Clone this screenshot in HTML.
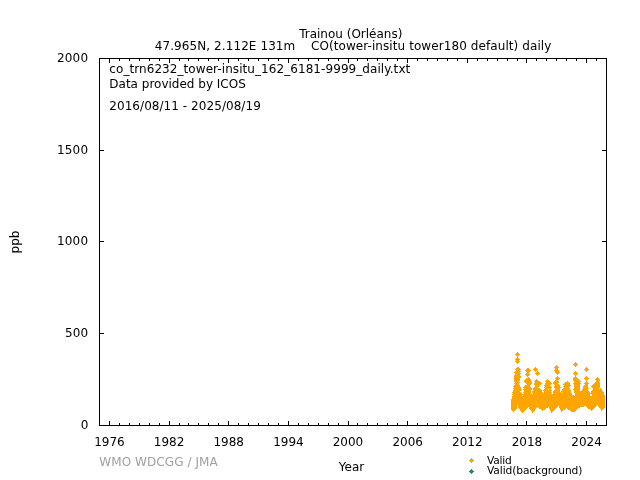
<!DOCTYPE html>
<html><head><meta charset="utf-8"><title>Trainou CO daily</title>
<style>
html,body{margin:0;padding:0;background:#fff;}
body{width:640px;height:480px;overflow:hidden;position:relative;}
svg{position:absolute;left:0;top:0;}
text{font-family:"DejaVu Sans","Liberation Sans",sans-serif;font-size:12px;fill:#000;}
.g{fill:#a0a0a0;}
.k{font-size:10.67px;}
</style></head><body>
<svg width="640" height="480" viewBox="0 0 640 480">
<g id="frame" stroke="#000" stroke-width="1" fill="none" shape-rendering="crispEdges">
<rect x="99.5" y="58.5" width="507" height="367"/>
</g>
<g id="ticks" stroke="#000" stroke-width="1" fill="none" shape-rendering="crispEdges"><path d="M109.5,425v-4M109.5,59v4M119.5,425v-2M119.5,59v2M129.5,425v-2M129.5,59v2M139.5,425v-2M139.5,59v2M149.5,425v-2M149.5,59v2M159.5,425v-2M159.5,59v2M169.5,425v-4M169.5,59v4M179.5,425v-2M179.5,59v2M188.5,425v-2M188.5,59v2M198.5,425v-2M198.5,59v2M208.5,425v-2M208.5,59v2M218.5,425v-2M218.5,59v2M228.5,425v-4M228.5,59v4M238.5,425v-2M238.5,59v2M248.5,425v-2M248.5,59v2M258.5,425v-2M258.5,59v2M268.5,425v-2M268.5,59v2M278.5,425v-2M278.5,59v2M288.5,425v-4M288.5,59v4M298.5,425v-2M298.5,59v2M308.5,425v-2M308.5,59v2M318.5,425v-2M318.5,59v2M328.5,425v-2M328.5,59v2M338.5,425v-2M338.5,59v2M348.5,425v-4M348.5,59v4M357.5,425v-2M357.5,59v2M367.5,425v-2M367.5,59v2M377.5,425v-2M377.5,59v2M387.5,425v-2M387.5,59v2M397.5,425v-2M397.5,59v2M407.5,425v-4M407.5,59v4M417.5,425v-2M417.5,59v2M427.5,425v-2M427.5,59v2M437.5,425v-2M437.5,59v2M447.5,425v-2M447.5,59v2M457.5,425v-2M457.5,59v2M467.5,425v-4M467.5,59v4M477.5,425v-2M477.5,59v2M487.5,425v-2M487.5,59v2M497.5,425v-2M497.5,59v2M507.5,425v-2M507.5,59v2M517.5,425v-2M517.5,59v2M526.5,425v-4M526.5,59v4M536.5,425v-2M536.5,59v2M546.5,425v-2M546.5,59v2M556.5,425v-2M556.5,59v2M566.5,425v-2M566.5,59v2M576.5,425v-2M576.5,59v2M586.5,425v-4M586.5,59v4M596.5,425v-2M596.5,59v2M100,333.5h4M606,333.5h-4M100,241.5h4M606,241.5h-4M100,150.5h4M606,150.5h-4"/></g>
<g id="pts" fill="#ffa500" shape-rendering="crispEdges"><path d="M517,352h1v1h-1zM516,353h3v1h-3zM515,354h5v1h-5zM516,355h3v1h-3zM517,356h1v2h-1zM516,358h3v1h-3zM515,359h5v1h-5zM516,360h3v1h-3zM515,361h5v1h-5zM575,362h1v1h-1zM516,362h3v1h-3zM517,363h1v1h-1zM574,363h3v1h-3zM573,364h5v1h-5zM556,365h1v1h-1zM574,365h3v1h-3zM555,366h3v1h-3zM575,366h1v1h-1zM535,367h1v1h-1zM554,367h5v1h-5zM517,367h2v1h-2zM586,367h1v1h-1zM527,368h2v1h-2zM585,368h3v1h-3zM534,368h3v1h-3zM516,368h4v1h-4zM555,368h3v2h-3zM584,369h5v1h-5zM533,369h5v1h-5zM526,369h4v1h-4zM515,369h6v1h-6zM525,370h6v1h-6zM585,370h3v1h-3zM534,370h3v1h-3zM554,370h5v1h-5zM516,370h4v1h-4zM586,371h1v1h-1zM575,371h1v1h-1zM537,371h1v1h-1zM526,371h4v1h-4zM535,371h1v1h-1zM555,371h4v1h-4zM515,371h6v1h-6zM536,372h3v1h-3zM574,372h3v1h-3zM555,372h5v1h-5zM527,372h2v1h-2zM514,372h6v1h-6zM535,373h5v1h-5zM556,373h3v1h-3zM573,373h5v1h-5zM526,373h3v1h-3zM515,373h6v1h-6zM515,374h5v1h-5zM536,374h3v1h-3zM557,374h1v1h-1zM574,374h3v1h-3zM525,374h5v1h-5zM537,375h1v1h-1zM526,375h3v1h-3zM514,375h6v1h-6zM575,375h1v2h-1zM586,376h1v1h-1zM557,376h1v1h-1zM527,376h1v1h-1zM514,376h7v2h-7zM528,377h1v1h-1zM574,377h3v1h-3zM585,377h3v1h-3zM556,377h3v1h-3zM597,377h1v1h-1zM584,378h5v1h-5zM596,378h3v1h-3zM555,378h5v1h-5zM526,378h4v1h-4zM573,378h5v1h-5zM595,379h5v1h-5zM525,379h6v1h-6zM585,379h3v1h-3zM556,379h3v1h-3zM573,379h6v1h-6zM536,379h1v1h-1zM547,379h1v1h-1zM514,378h6v3h-6zM546,380h3v1h-3zM535,380h3v1h-3zM555,380h3v1h-3zM573,380h7v1h-7zM596,380h4v1h-4zM586,380h1v2h-1zM524,380h7v2h-7zM514,381h5v1h-5zM567,381h1v1h-1zM574,381h7v1h-7zM596,381h3v1h-3zM545,381h5v1h-5zM554,381h5v1h-5zM534,381h6v1h-6zM535,382h6v1h-6zM595,382h5v1h-5zM515,382h5v1h-5zM546,382h5v1h-5zM585,382h3v1h-3zM565,382h4v1h-4zM574,382h6v1h-6zM525,382h7v1h-7zM553,382h6v1h-6zM526,383h6v1h-6zM594,383h6v1h-6zM514,383h5v1h-5zM545,383h7v1h-7zM584,383h5v1h-5zM534,383h8v1h-8zM564,383h6v1h-6zM553,383h5v1h-5zM573,383h8v1h-8zM563,384h7v1h-7zM545,384h6v1h-6zM515,384h4v1h-4zM534,384h7v1h-7zM585,384h3v1h-3zM554,384h5v1h-5zM527,384h4v1h-4zM593,384h7v1h-7zM584,385h4v1h-4zM555,385h5v1h-5zM544,385h6v1h-6zM535,385h5v1h-5zM525,385h5v1h-5zM514,385h6v1h-6zM592,385h8v1h-8zM564,385h7v1h-7zM563,386h7v1h-7zM591,386h9v1h-9zM554,386h6v1h-6zM545,386h6v1h-6zM513,386h7v1h-7zM535,386h4v1h-4zM524,386h6v1h-6zM583,386h5v2h-5zM544,387h8v1h-8zM554,387h7v1h-7zM534,387h4v1h-4zM514,387h7v1h-7zM523,387h8v1h-8zM564,387h5v1h-5zM592,387h8v1h-8zM574,384h6v5h-6zM563,388h7v1h-7zM524,388h8v1h-8zM513,388h8v1h-8zM545,388h6v1h-6zM593,388h6v1h-6zM583,388h6v1h-6zM533,388h7v1h-7zM600,388h1v1h-1zM555,388h5v2h-5zM544,389h4v1h-4zM549,389h2v1h-2zM523,389h9v1h-9zM533,389h8v1h-8zM593,389h9v1h-9zM573,389h7v1h-7zM562,389h8v1h-8zM514,389h8v1h-8zM582,389h6v2h-6zM562,390h9v1h-9zM533,390h9v1h-9zM592,390h10v1h-10zM513,390h8v1h-8zM554,390h6v1h-6zM574,390h6v1h-6zM543,390h9v1h-9zM524,390h7v2h-7zM544,391h7v1h-7zM591,391h12v1h-12zM513,391h7v1h-7zM574,391h15v1h-15zM553,391h7v1h-7zM561,391h10v1h-10zM532,391h10v1h-10zM544,392h8v1h-8zM562,392h9v1h-9zM574,392h16v1h-16zM523,392h8v1h-8zM553,392h8v1h-8zM532,392h11v1h-11zM512,392h9v1h-9zM591,392h13v1h-13zM533,393h18v1h-18zM524,393h7v1h-7zM575,393h29v1h-29zM513,393h9v1h-9zM553,393h19v1h-19zM592,394h12v1h-12zM512,394h60v1h-60zM575,394h15v2h-15zM523,395h51v1h-51zM513,395h9v1h-9zM592,395h13v1h-13zM512,396h93v3h-93zM511,399h94v6h-94zM518,405h79v1h-79zM598,405h7v2h-7zM586,406h10v1h-10zM518,406h40v1h-40zM559,406h25v1h-25zM538,407h10v1h-10zM518,407h10v1h-10zM559,407h21v1h-21zM549,407h8v1h-8zM587,407h8v1h-8zM599,407h6v1h-6zM529,407h8v1h-8zM511,405h6v4h-6zM539,408h7v1h-7zM588,408h6v1h-6zM560,408h6v1h-6zM549,408h7v1h-7zM600,408h4v1h-4zM567,408h11v1h-11zM519,408h8v1h-8zM529,408h7v1h-7zM530,409h5v1h-5zM511,409h5v1h-5zM541,409h4v1h-4zM590,409h3v1h-3zM601,409h2v1h-2zM560,409h5v1h-5zM568,409h9v1h-9zM520,409h6v1h-6zM550,409h5v1h-5zM601,410h1v1h-1zM531,410h4v1h-4zM520,410h5v1h-5zM570,410h6v1h-6zM550,410h4v1h-4zM512,410h3v1h-3zM542,410h1v1h-1zM561,410h2v1h-2zM591,410h1v1h-1zM571,411h4v1h-4zM551,411h2v1h-2zM532,411h2v1h-2zM513,411h1v1h-1zM521,411h3v1h-3zM561,411h1v1h-1zM532,412h1v1h-1zM551,412h1v1h-1zM522,412h1v1h-1z"/><path d="M469,460h5v1h-5zM470,459h3v3h-3zM471,458h1v5h-1z"/><path fill="#2e8b57" d="M469,471h5v1h-5zM470,470h3v3h-3zM471,469h1v5h-1z"/></g>
<text x="350.8" y="37.8" text-anchor="middle">Trainou (Orléans)</text>
<text x="353.1" y="50" text-anchor="middle" xml:space="preserve" style="letter-spacing:0.083px">47.965N, 2.112E 131m    CO(tower-insitu tower180 default) daily</text>
<text x="109.3" y="72.6" style="letter-spacing:0.07px">co_trn6232_tower-insitu_162_6181-9999_daily.txt</text>
<text x="109.3" y="88">Data provided by ICOS</text>
<text x="109.3" y="109.6" style="letter-spacing:0.054px">2016/08/11 - 2025/08/19</text>
<text x="88.2" y="62" text-anchor="end" style="letter-spacing:0.15px">2000</text>
<text x="88.2" y="154" text-anchor="end" style="letter-spacing:0.15px">1500</text>
<text x="88.2" y="245" text-anchor="end" style="letter-spacing:0.15px">1000</text>
<text x="88.3" y="337" text-anchor="end" style="letter-spacing:0.15px">500</text>
<text x="88.3" y="429" text-anchor="end">0</text>
<text x="109.4" y="446" text-anchor="middle">1976</text>
<text x="169.1" y="446" text-anchor="middle">1982</text>
<text x="228.7" y="446" text-anchor="middle">1988</text>
<text x="288.4" y="446" text-anchor="middle">1994</text>
<text x="348.0" y="446" text-anchor="middle">2000</text>
<text x="407.7" y="446" text-anchor="middle">2006</text>
<text x="467.3" y="446" text-anchor="middle">2012</text>
<text x="527.0" y="446" text-anchor="middle">2018</text>
<text x="586.6" y="446" text-anchor="middle">2024</text>
<text transform="translate(19,242) rotate(-90)" text-anchor="middle">ppb</text>
<text x="351.5" y="471" text-anchor="middle">Year</text>
<text x="99.3" y="466" class="g" style="letter-spacing:0.08px">WMO WDCGG / JMA</text>
<text x="487" y="463.6" class="k" style="letter-spacing:-0.22px">Valid</text>
<text x="487" y="474.4" class="k" style="letter-spacing:-0.1px">Valid(background)</text>
</svg>
</body></html>
